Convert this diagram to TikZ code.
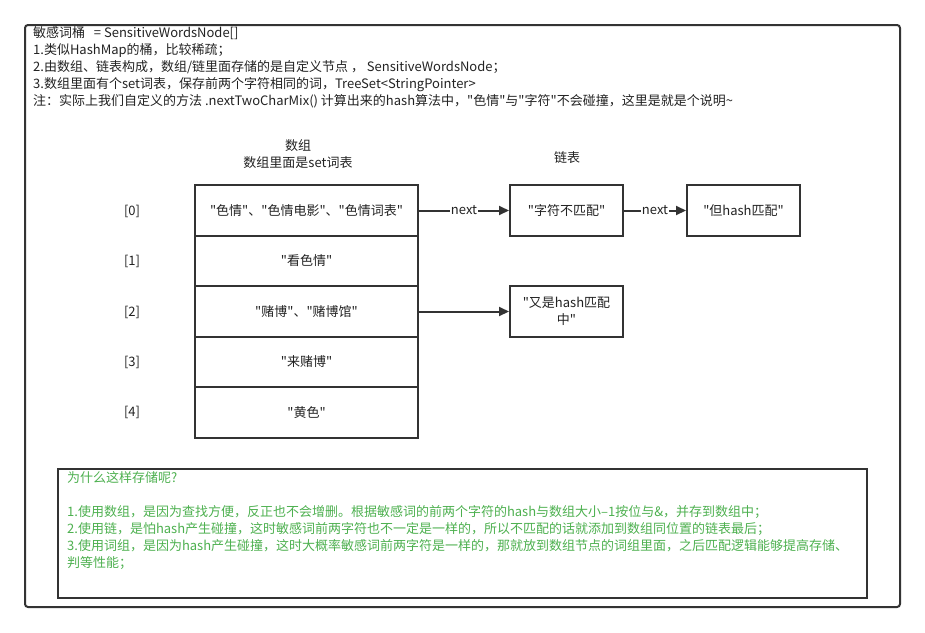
\documentclass[tikz,border=0pt]{standalone}
\usepackage{fontspec}
\newfontfamily\cjk{Noto Sans CJK SC}
\usetikzlibrary{arrows.meta}
\definecolor{edge}{HTML}{333333}
\definecolor{txt}{HTML}{222222}
\definecolor{note}{HTML}{4DB04F}
\tikzset{
  cell/.style={draw=edge, line width=2pt, minimum width=223pt, minimum height=50.5pt, inner sep=0pt, font=\cjk\fontsize{13}{16}\selectfont, text=txt},
  lnode/.style={draw=edge, line width=2pt, minimum width=113pt, minimum height=51pt, inner sep=0pt, align=center, font=\cjk\fontsize{13}{17}\selectfont, text=txt},
  idx/.style={font=\cjk\fontsize{13}{16}\selectfont, text=txt},
  lbl/.style={font=\cjk\fontsize{13}{17}\selectfont, text=txt, align=center},
  conn/.style={draw=edge, line width=2pt, -{Triangle[length=10pt,width=9pt]}},
  nextlbl/.style={fill=white, inner sep=1pt, font=\cjk\fontsize{13}{16}\selectfont, text=txt},
}
\begin{document}
\begin{tikzpicture}[x=1pt,y=-1pt]
\useasboundingbox (0,0) rectangle (925,632);
\draw[edge, line width=2pt, rounded corners=3pt] (25,25) rectangle (900,607);
\node[anchor=north west, inner sep=0pt, align=left, text=txt, font=\cjk\fontsize{13}{17}\selectfont] (hdr) at (33,26) {敏感词桶\ \ \ = SensitiveWordsNode[]\\1.类似HashMap的桶，比较稀疏；\\2.由数组、链表构成，数组/链里面存储的是自定义节点 ， SensitiveWordsNode；\\3.数组里面有个set词表，保存前两个字符相同的词，TreeSet<StringPointer>\\注：实际上我们自定义的方法 .nextTwoCharMix() 计算出来的hash算法中，"色情"与"字符"不会碰撞，这里是就是个说明\textasciitilde};

\node[lbl] (arrtitle) at (298,154) {数组\\数组里面是set词表};
\node[lbl] (listtitle) at (567,158) {链表};

\node[cell] (a0) at (306.5,210.5) {"色情"、"色情电影"、"色情词表"};
\node[cell] (a1) at (306.5,261) {"看色情"};
\node[cell] (a2) at (306.5,311.5) {"赌博"、"赌博馆"};
\node[cell] (a3) at (306.5,362) {"来赌博"};
\node[cell] (a4) at (306.5,412.5) {"黄色"};

\node[idx] (i0) at (132,211) {[0]};
\node[idx] (i1) at (132,261) {[1]};
\node[idx] (i2) at (132,312) {[2]};
\node[idx] (i3) at (132,362) {[3]};
\node[idx] (i4) at (132,412) {[4]};

\node[lnode] (l1) at (566.5,210.5) {"字符不匹配"};
\node[lnode] (l2) at (743.5,210.5) {"但hash匹配"};
\node[lnode] (l3) at (566.5,311.5) {"又是hash匹配\\中"};

\draw[conn] (a0) -- node[nextlbl] {next} (l1);
\draw[conn] (l1) -- node[nextlbl] {next} (l2);
\draw[conn] (a2) -- (l3);

\draw[edge, line width=2pt] (58,469) rectangle (867,598);
\node[anchor=north west, inner sep=0pt, align=left, text=note, font=\cjk\fontsize{13}{17}\selectfont] (why) at (67,471) {为什么这样存储呢?\\[0pt]\mbox{}\\1.使用数组，是因为查找方便，反正也不会增删。根据敏感词的前两个字符的hash与数组大小–1按位与\&，并存到数组中；\\2.使用链，是怕hash产生碰撞，这时敏感词前两字符也不一定是一样的，所以不匹配的话就添加到数组同位置的链表最后；\\3.使用词组，是因为hash产生碰撞，这时大概率敏感词前两字符是一样的，那就放到数组节点的词组里面，之后匹配逻辑能够提高存储、\\判等性能；};
\end{tikzpicture}
\end{document}
